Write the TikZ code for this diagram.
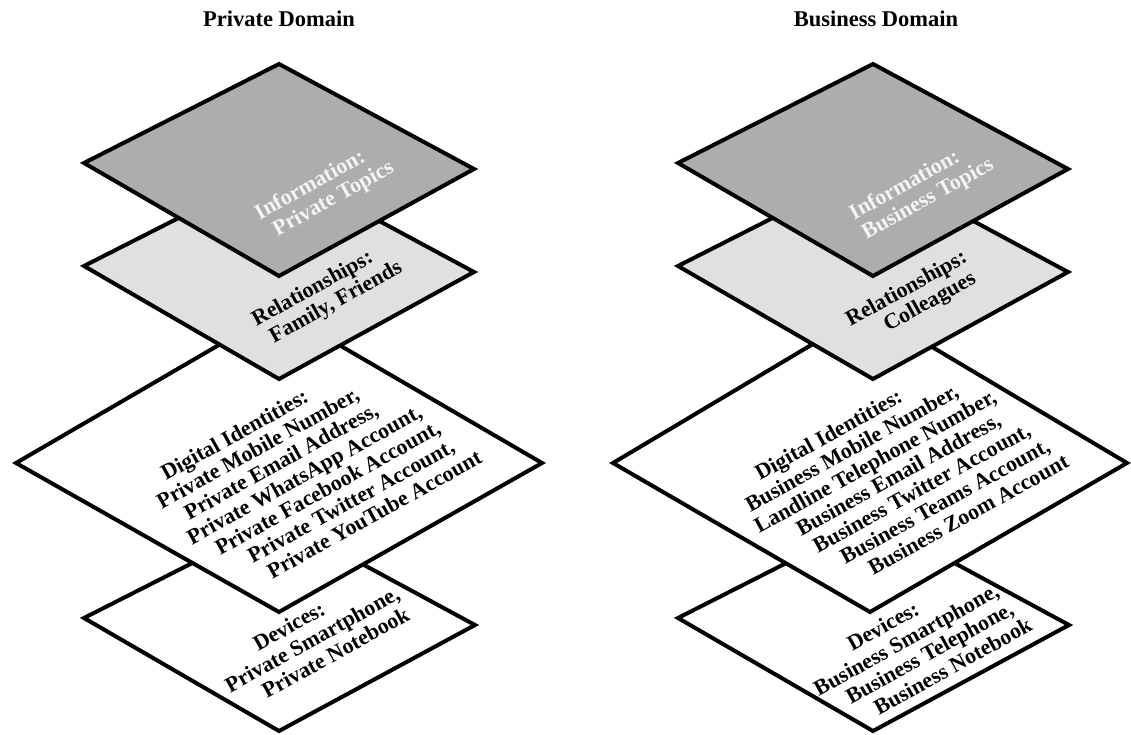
\documentclass[tikz,border=0pt]{standalone}
\usepackage{fontspec}
\setmainfont{Liberation Serif}
\definecolor{infogray}{HTML}{ADADAD}
\definecolor{relgray}{HTML}{E0E0E0}
\definecolor{infotext}{HTML}{F4F4F4}

% Lines of text lying on a layer: each line is rotated along the layer edge,
% and successive lines step down-right along the other edge.
\newcommand\layerlines[5]{% #1 extra style, #2 name prefix, #3 x, #4 y of first line, #5 lines
  \foreach \linetext [count=\i from 0] in {#5} {
    \node[layerline, #1] (#2-\i) at ({#3+\i*23.3},{#4+\i*13.3}) {\linetext};
  }%
}

\begin{document}
\begin{tikzpicture}[x=1pt,y=-1pt,
  layer/.style={draw=black, line width=4pt, line join=miter},
  domaintitle/.style={font=\fontsize{22.5}{27}\selectfont\bfseries, anchor=base, inner sep=0pt},
  layerline/.style={font=\fontsize{22}{26}\selectfont\bfseries, anchor=base, rotate=29, inner sep=0pt},
]
\useasboundingbox (0,0) rectangle (1131,735);

% ---------- Private domain stack (bottom layer first) ----------
\draw[layer, fill=white]    (279,519) -- (475,625) -- (279,731) -- (84,618) -- cycle;
\draw[layer, fill=white]    (279,310) -- (542,463) -- (279,612) -- (16,463) -- cycle;
\draw[layer, fill=relgray]  (279,167) -- (474,272) -- (279,379) -- (84,266) -- cycle;
\draw[layer, fill=infogray] (279,64)  -- (474,169) -- (279,276) -- (84,163) -- cycle;

\node[domaintitle] (titleL) at (279,26.5) {Private Domain};
\layerlines{text=infotext}{infoL}{313}{190.5}{{Information:},{Private Topics}}
\layerlines{}{relL}{315.5}{294}{{Relationships:},{Family, Friends}}
\layerlines{}{digL}{238}{441}{{Digital Identities:},{Private Mobile Number,},{Private Email Address,},{Private WhatsApp Account,},{Private Facebook Account,},{Private Twitter Account,},{Private YouTube Account}}
\layerlines{}{devL}{292.5}{632.5}{{Devices:},{Private Smartphone,},{Private Notebook}}

% ---------- Business domain stack ----------
\draw[layer, fill=white]    (873,519) -- (1069,625) -- (873,731) -- (678,618) -- cycle;
\draw[layer, fill=white]    (870,310) -- (1127,463) -- (870,612) -- (613,463) -- cycle;
\draw[layer, fill=relgray]  (873,167) -- (1068,272) -- (873,379) -- (678,266) -- cycle;
\draw[layer, fill=infogray] (873,64)  -- (1068,169) -- (873,276) -- (678,163) -- cycle;

\node[domaintitle] (titleR) at (876,26.5) {Business Domain};
\layerlines{text=infotext}{infoR}{907.5}{190.5}{{Information:},{Business Topics}}
\layerlines{}{relR}{909.5}{294}{{Relationships:},{Colleagues}}
\layerlines{}{digR}{832}{441}{{Digital Identities:},{Business Mobile Number,},{Landline Telephone Number,},{Business Email Address,},{Business Twitter Account,},{Business Teams Account,},{Business Zoom Account}}
\layerlines{}{devR}{886.5}{632.5}{{Devices:},{Business Smartphone,},{Business Telephone,},{Business Notebook}}
\end{tikzpicture}
\end{document}
